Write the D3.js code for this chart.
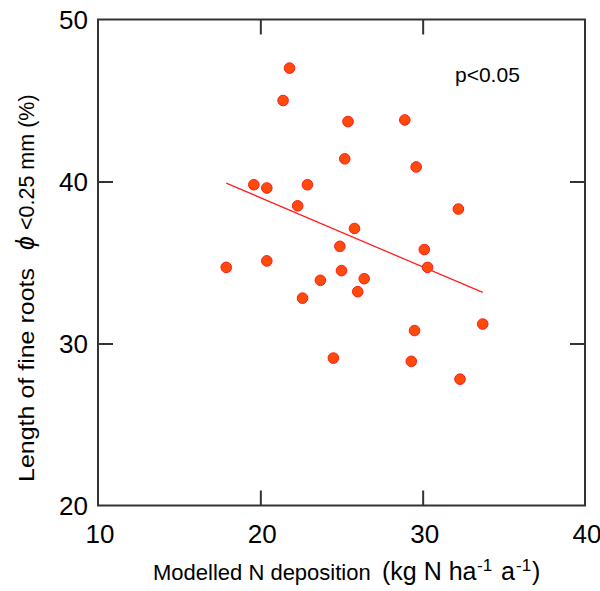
<!DOCTYPE html>
<html>
<head>
<meta charset="utf-8">
<script src="https://cdn.jsdelivr.net/npm/d3@7"></script>
<style>
  html, body { margin: 0; padding: 0; background: #fff; }
  svg { display: block; font-family: "Liberation Sans", Arial, sans-serif; }
</style>
</head>
<body>
<svg id="chart" width="600" height="591"></svg>
<script>
// Data (N deposition, kg N ha-1 a-1 ; fine root length share, %)
const nDeposition = [17.9, 19.6, 20.4, 20.4, 21.4, 21.8, 22.3, 22.6, 22.9, 23.7, 24.5, 24.9, 25.0, 25.2, 25.4, 25.8, 26.0, 26.4, 28.9, 29.3, 29.5, 29.6, 30.1, 30.3, 32.2, 32.3, 33.7];
const rootLength  = [34.7, 39.8, 39.6, 35.1, 45.0, 47.0, 38.5, 32.8, 39.8, 33.9, 29.1, 36.0, 34.5, 41.4, 43.7, 37.1, 33.2, 34.0, 43.8, 28.9, 30.8, 40.9, 35.8, 34.7, 38.3, 27.8, 31.2];
const trendX = [17.9, 33.7];
const trendY = [39.9, 33.15];
const xTicks = [10, 20, 30, 40];
const yTicks = [20, 30, 40, 50];
const xDomain = [10, 40];
const yDomain = [20, 50];

(function () {
const svg = d3.select("#chart");
const mL = 98, mR = 585, mT = 19.5, mB = 505.5;
const x = d3.scaleLinear().domain(xDomain).range([mL, mR]);
const y = d3.scaleLinear().domain(yDomain).range([mB, mT]);
const axisColor = "#333";
const tickLen = 15;

// frame
svg.append("rect")
  .attr("x", mL).attr("y", mT)
  .attr("width", mR - mL).attr("height", mB - mT)
  .attr("fill", "none").attr("stroke", axisColor).attr("stroke-width", 2);

// interior ticks on all four sides
const innerX = xTicks.slice(1, -1);
const innerY = yTicks.slice(1, -1);
function styleAxis(g) {
  g.select(".domain").remove();
  g.selectAll(".tick line").attr("stroke", axisColor).attr("stroke-width", 2);
  g.selectAll(".tick text").remove();
}
svg.append("g").attr("transform", `translate(0,${mB})`)
  .call(d3.axisTop(x).tickValues(innerX).tickSize(tickLen)).call(styleAxis);
svg.append("g").attr("transform", `translate(0,${mT})`)
  .call(d3.axisBottom(x).tickValues(innerX).tickSize(tickLen)).call(styleAxis);
svg.append("g").attr("transform", `translate(${mL},0)`)
  .call(d3.axisRight(y).tickValues(innerY).tickSize(tickLen)).call(styleAxis);
svg.append("g").attr("transform", `translate(${mR},0)`)
  .call(d3.axisLeft(y).tickValues(innerY).tickSize(tickLen)).call(styleAxis);

// tick labels
svg.append("g").selectAll("text").data(xTicks).join("text")
  .attr("x", d => x(d) + 2).attr("y", 543)
  .attr("text-anchor", "middle")
  .attr("font-size", 26).attr("fill", "#000")
  .text(d => d);
svg.append("g").selectAll("text").data(yTicks).join("text")
  .attr("x", 88).attr("y", d => y(d) + 9.5)
  .attr("text-anchor", "end")
  .attr("font-size", 26).attr("fill", "#000")
  .text(d => d);

// x axis title
const xt = svg.append("g").attr("fill", "#000");
xt.append("text").attr("x", 153).attr("y", 580).attr("font-size", 22)
  .text("Modelled N deposition");
xt.append("text").attr("x", 382).attr("y", 580).attr("font-size", 25)
  .text("(kg N ha");
xt.append("text").attr("x", 477).attr("y", 571).attr("font-size", 17).text("-1");
xt.append("text").attr("x", 501).attr("y", 580).attr("font-size", 25).text("a");
xt.append("text").attr("x", 516).attr("y", 571).attr("font-size", 17).text("-1");
xt.append("text").attr("x", 532).attr("y", 580).attr("font-size", 25).text(")");

// y axis title
const yt = svg.append("g").attr("transform", "translate(34,482) rotate(-90)").attr("fill", "#000");
yt.append("text").attr("x", 0).attr("y", 0).attr("font-size", 21.5)
  .attr("textLength", 214).attr("lengthAdjust", "spacingAndGlyphs")
  .text("Length of fine roots");
yt.append("text").attr("x", 232).attr("y", 0).attr("font-style", "italic").attr("font-size", 25).text("ϕ");
yt.append("text").attr("x", 252).attr("y", 0).attr("font-size", 21.5).text("<0.25 mm (%)");

// p-value
svg.append("text")
  .attr("x", 455).attr("y", 82)
  .attr("font-size", 21).attr("fill", "#000")
  .text("p<0.05");

// trend line
svg.append("line")
  .attr("x1", x(trendX[0])).attr("y1", y(trendY[0]))
  .attr("x2", x(trendX[1])).attr("y2", y(trendY[1]))
  .attr("stroke", "#ff2020").attr("stroke-width", 1.3);

// points
const pts = nDeposition.map((d, i) => ({ x: d, y: rootLength[i] }));
svg.append("g").selectAll("circle").data(pts).join("circle")
  .attr("cx", d => x(d.x)).attr("cy", d => y(d.y))
  .attr("r", 5.3)
  .attr("fill", "#ff4a0a")
  .attr("stroke", "#ff1a1a")
  .attr("stroke-width", 1);
})();
</script>
</body>
</html>
